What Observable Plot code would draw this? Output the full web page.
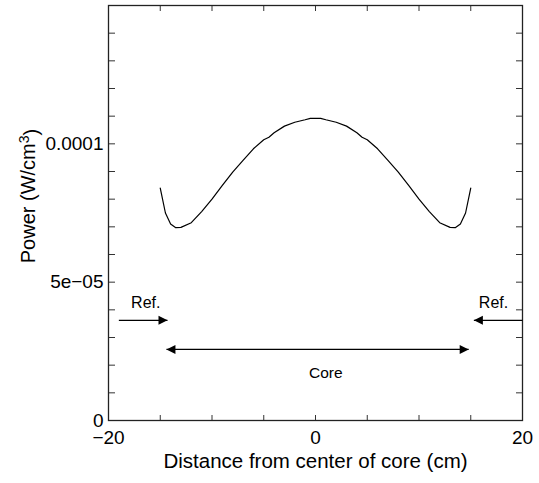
<!DOCTYPE html>
<html>
<head>
<meta charset="utf-8">
<script src="https://cdn.jsdelivr.net/npm/d3@7"></script>
<script src="https://cdn.jsdelivr.net/npm/@observablehq/plot@0.6"></script>
<style>
  html, body { margin: 0; padding: 0; background: #fff; }
  #chart { width: 539px; height: 483px; }
</style>
</head>
<body>
<div id="chart"></div>
<script>
// Power profile across the core
const distance = [-15, -14.5, -14, -13.5, -13, -12, -11, -10, -9, -8, -7, -6, -5, -4.5, -4, -3, -2, -1, -0.5, 0,
                  0.5, 1, 2, 3, 4, 4.5, 5, 6, 7, 8, 9, 10, 11, 12, 13, 13.5, 14, 14.5, 15];
const power = [8.4e-5, 7.5e-5, 7.1e-5, 6.97e-5, 6.98e-5, 7.15e-5, 7.55e-5, 8.0e-5, 8.5e-5, 8.98e-5, 9.4e-5, 9.82e-5, 10.15e-5, 10.24e-5, 10.4e-5, 10.64e-5, 10.78e-5, 10.87e-5, 10.92e-5, 10.92e-5,
               10.92e-5, 10.87e-5, 10.78e-5, 10.64e-5, 10.4e-5, 10.24e-5, 10.15e-5, 9.82e-5, 9.4e-5, 8.98e-5, 8.5e-5, 8.0e-5, 7.55e-5, 7.15e-5, 6.98e-5, 6.97e-5, 7.1e-5, 7.5e-5, 8.4e-5];

// Axis ticks and labels
const xTickLabels = [-20, 0, 20];
const xTicks = [-20, -15, -10, -5, 0, 5, 10, 15, 20];
const yTickLabels = [0, 5e-5, 1e-4];
const yTickText = ["0", "5e\u221205", "0.0001"];
const yTicks = [0, 1e-5, 2e-5, 3e-5, 4e-5, 5e-5, 6e-5, 7e-5, 8e-5, 9e-5, 1e-4, 1.1e-4, 1.2e-4, 1.3e-4, 1.4e-4];
const xDomain = [-20, 20];
const yDomain = [0, 1.5e-4];
const xTitle = "Distance from center of core (cm)";
const yTitle = "Power (W/cm3)";

// Annotations
const refX1 = [-19, 20];
const refX2 = [-14.3, 15.3];
const refY = [3.62e-5, 3.62e-5];
const refLabelX = [-16.4, 17.2];
const refLabelY = [4.26e-5, 4.26e-5];
const refLabel = ["Ref.", "Ref."];
const coreX1 = -14.4;
const coreX2 = 14.8;
const coreY = 2.57e-5;
const coreLabelX = 1.0;
const coreLabelY = 1.7e-5;
const coreLabel = "Core";

const curve = distance.map((d, i) => ({x: d, y: power[i]}));
const refs = refX1.map((x1, i) => ({x1, x2: refX2[i], y: refY[i]}));
const refTexts = refLabel.map((t, i) => ({x: refLabelX[i], y: refLabelY[i], t}));
const core = [{x1: coreX1, x2: coreX2, y: coreY}];
const heads = [
  ...refs.map(r => ({x: r.x2, y: r.y, dir: r.x2 > r.x1 ? "R" : "L"})),
  {x: coreX1, y: coreY, dir: "L"},
  {x: coreX2, y: coreY, dir: "R"}
];

const triRight = {draw(c) { c.moveTo(0, 0); c.lineTo(-9, -4.5); c.lineTo(-9, 4.5); c.closePath(); }};
const triLeft = {draw(c) { c.moveTo(0, 0); c.lineTo(9, -4.5); c.lineTo(9, 4.5); c.closePath(); }};

const font = "Liberation Sans, Arial, Helvetica, sans-serif";
const yFmt = v => yTickText[yTickLabels.indexOf(v)];
const xFmt = v => (v < 0 ? "\u2212" + Math.abs(v) : String(v));

const chart = Plot.plot({
  width: 539,
  height: 483,
  marginLeft: 108,
  marginRight: 17,
  marginTop: 5,
  marginBottom: 63,
  style: {fontFamily: font, fontSize: "19px", color: "#000", background: "#fff"},
  x: {domain: xDomain},
  y: {domain: yDomain},
  marks: [
    // inward ticks
    Plot.axisY(yTicks, {anchor: "left", tickSize: 7, dx: 7, tickFormat: () => "", label: null, stroke: "#333"}),
    Plot.axisY(yTicks, {anchor: "right", tickSize: 7, dx: -7, tickFormat: () => "", label: null, stroke: "#333"}),
    Plot.axisX(xTicks, {anchor: "bottom", tickSize: 5, dy: -5, tickFormat: () => "", label: null, stroke: "#333"}),
    Plot.axisX(xTicks, {anchor: "top", tickSize: 5, dy: 5, tickFormat: () => "", label: null, stroke: "#333"}),
    // labels
    Plot.axisY(yTickLabels, {anchor: "left", tickSize: 0, tickPadding: 5, tickFormat: yFmt, label: null, fontSize: 19}),
    Plot.axisX(xTickLabels, {anchor: "bottom", tickSize: 0, tickPadding: 10, tickFormat: xFmt, label: null, fontSize: 19}),
    Plot.text([yTitle], {frameAnchor: "left", textAnchor: "middle", rotate: -90, dx: -80, dy: -17, fontSize: 20, className: "ytitle"}),
    Plot.text([xTitle], {frameAnchor: "bottom", dy: 47, fontSize: 20.5}),
    Plot.frame({stroke: "#222", strokeWidth: 1.3}),
    // curve
    Plot.line(curve, {x: "x", y: "y", stroke: "#000", strokeWidth: 1.2}),
    // arrows
    Plot.link(refs, {x1: "x1", x2: "x2", y1: "y", y2: "y", stroke: "#000", strokeWidth: 1.2}),
    Plot.link(core, {x1: "x1", x2: "x2", y1: "y", y2: "y", stroke: "#000", strokeWidth: 1.2}),
    Plot.dot(heads.filter(h => h.dir === "R"), {x: "x", y: "y", symbol: triRight, r: 5, fill: "#000", stroke: "none"}),
    Plot.dot(heads.filter(h => h.dir === "L"), {x: "x", y: "y", symbol: triLeft, r: 5, fill: "#000", stroke: "none"}),
    Plot.text(refTexts, {x: "x", y: "y", text: "t", fontSize: 16}),
    Plot.text([{x: coreLabelX, y: coreLabelY, t: coreLabel}], {x: "x", y: "y", text: "t", fontSize: 15.5})
  ]
});
document.getElementById("chart").appendChild(chart);

// render the "3" of cm3 as a superscript
d3.select(chart).selectAll("text").each(function () {
  const t = d3.select(this);
  if (t.text() === yTitle) {
    t.text(null);
    t.append("tspan").text("Power (W/cm");
    t.append("tspan").attr("dy", "-0.45em").attr("font-size", "0.7em").text("3");
    t.append("tspan").attr("dy", "0.45em").text(")");
  }
});
</script>
</body>
</html>
